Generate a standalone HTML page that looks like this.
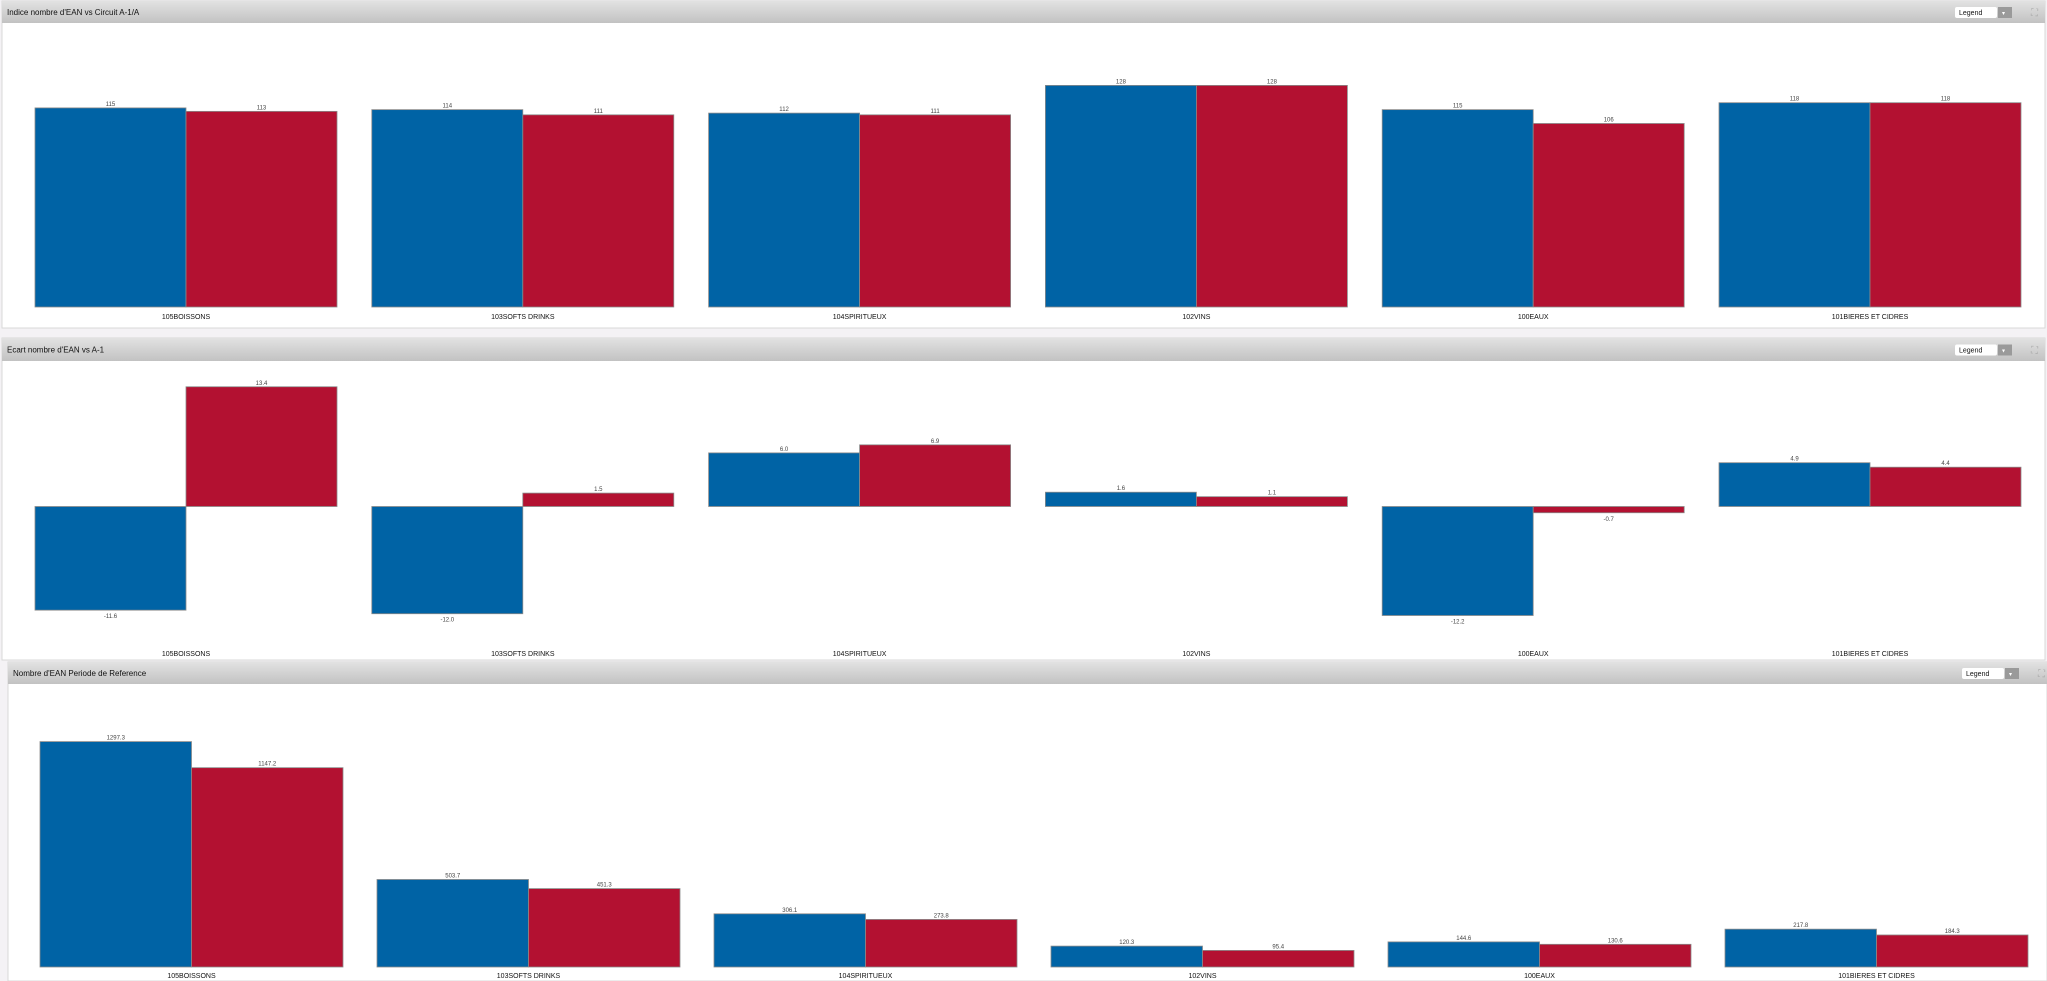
<!DOCTYPE html>
<html><head><meta charset="utf-8"><style>
html,body{margin:0;padding:0;background:#f4f2f5;width:2047px;height:981px;overflow:hidden;font-family:"Liberation Sans",sans-serif}
svg{display:block}
</style></head><body>
<svg id="chart" width="2047" height="981" xmlns="http://www.w3.org/2000/svg">
<defs><linearGradient id="hdr" x1="0" y1="0" x2="0" y2="1"><stop offset="0" stop-color="#e2e2e2"/><stop offset="1" stop-color="#c2c2c2"/></linearGradient></defs>
</svg>
<script>
const categories = ["105BOISSONS","103SOFTS DRINKS","104SPIRITUEUX","102VINS","100EAUX","101BIERES ET CIDRES"];
const indiceBlue = [115,114,112,128,114,118];
const indiceRed = [113,111,111,128,106,118];
const indiceBlueLabels = ["115","114","112","128","115","118"];
const indiceRedLabels = ["113","111","111","128","106","118"];
const ecartBlue = [-11.6,-12.0,6.0,1.6,-12.2,4.9];
const ecartRed = [13.4,1.5,6.9,1.1,-0.7,4.4];
const nombreBlue = [1297.3,503.7,306.1,120.3,144.6,217.8];
const nombreRed = [1147.2,451.3,273.8,95.4,130.6,184.3];

const NS="http://www.w3.org/2000/svg";
const svg=document.getElementById('chart');
function mk(tag,attrs,parent){const e=document.createElementNS(NS,tag);for(const k in attrs)e.setAttribute(k,attrs[k]);(parent||svg).appendChild(e);return e;}

const panels=[
 {name:'indice-panel',title:"Indice nombre d'EAN vs Circuit A-1/A",x:2,y:1,w:2043,h:327,hh:22,
  x0:35,gw:302,gs:336.8,top:30,base:307,min:0,max:160,lab:316,blue:indiceBlue,red:indiceRed,fmt:(v,i,s)=>s?indiceRedLabels[i]:indiceBlueLabels[i]},
 {name:'ecart-panel',title:"Ecart nombre d'EAN vs A-1",x:2,y:338,w:2043,h:322,hh:23,
  x0:35,gw:302,gs:336.8,top:368,base:645,min:-15.5,max:15.5,lab:653,blue:ecartBlue,red:ecartRed,fmt:v=>v.toFixed(1)},
 {name:'nombre-panel',title:"Nombre d'EAN Periode de Reference",x:8,y:662,w:2039,h:319,hh:22,
  x0:40,gw:303,gs:337,top:689,base:967,min:0,max:1600,lab:975,blue:nombreBlue,red:nombreRed,fmt:v=>v.toFixed(1)}
];

panels.forEach(p=>{
  const g=mk('g',{});
  
  
  const bg=mk('rect',{x:p.x,y:p.y,width:p.w,height:p.h,fill:'#fff',stroke:'#d8d8d8','stroke-width':1},g);
  
  
  const hd=mk('rect',{x:p.x,y:p.y,width:p.w,height:p.hh,fill:'url(#hdr)'},g);
  
  
  const t=mk('text',{x:p.x+5,y:p.y+p.hh/2+3,'font-size':8,fill:'#111'},g);
  t.textContent=p.title;
  
  
  const lx=1955+(p.x===8?7:0), ly=p.y+p.hh/2-5;
  const lg=mk('g',{},g);
  
  
  mk('rect',{x:lx,y:ly,width:42,height:11,fill:'#fff',rx:2},lg);
  const lt=mk('text',{x:lx+4,y:ly+8,'font-size':7,fill:'#111'},lg);lt.textContent='Legend';
  mk('rect',{x:lx+43,y:ly,width:14,height:11,fill:'#9a9a9a'},lg);
  mk('text',{x:lx+47,y:ly+8,'font-size':6,fill:'#fff'},lg).textContent='▾';
  const ex=mk('text',{x:lx+76,y:ly+9,'font-size':10,fill:'#aaa'},g);
  ex.textContent='⛶';
  
  
  const ys=v=>p.base-(v-p.min)/(p.max-p.min)*(p.base-p.top);
  const zero=ys(Math.max(p.min,0));
  categories.forEach((c,i)=>{
    const gx=p.x0+i*p.gs, bw=p.gw/2;
    [[p.blue[i],'#0063a5',0],[p.red[i],'#b31131',1]].forEach(([v,col,s])=>{
      const yv=ys(v), y=Math.min(yv,zero), h=Math.abs(yv-zero);
      const r=mk('rect',{x:gx+s*bw,y:y,width:bw,height:Math.max(h,1),fill:col,stroke:'#8a8a8a','stroke-width':0.8},g);
      
      
      const vl=mk('text',{x:gx+s*bw+bw/2,y:v>=0?yv-2:yv+8,'font-size':6,'text-anchor':'middle',fill:'#444'},g);
      vl.textContent=p.fmt(v,i,s);
      
      
    });
    const cl=mk('text',{x:gx+p.gw/2,y:p.lab+3,'font-size':7,'text-anchor':'middle',fill:'#111'},g);
    cl.textContent=c;
    
    
  });
});
</script>
</body></html>
